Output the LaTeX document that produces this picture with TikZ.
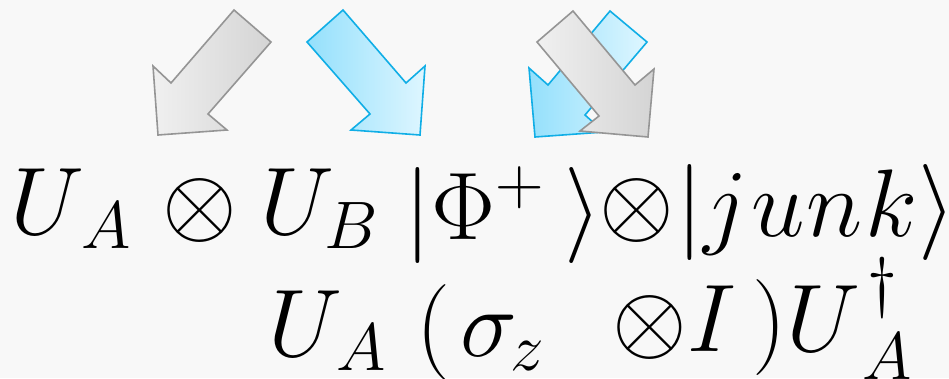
\RequirePackage{fix-cm}
\documentclass[tikz,border=0pt]{standalone}
\usepackage{amsmath,amssymb}
\definecolor{qbg}{RGB}{248,248,248}
\definecolor{qgraylt}{RGB}{240,240,240}
\definecolor{qgraydk}{RGB}{212,212,212}
\definecolor{qgrayln}{RGB}{149,149,149}
\definecolor{qbluedk}{RGB}{148,224,252}
\definecolor{qbluelt}{RGB}{222,246,255}
\definecolor{qblueln}{RGB}{16,174,230}
\usetikzlibrary{arrows.meta,calc}

\begin{document}
\begin{tikzpicture}[
  x=1pt, y=-1pt,
  grayarr/.style={
    left color=qgraylt, right color=qgraydk,
    draw=qgrayln, line width=1.6pt, line join=miter
  },
  bluearr/.style={
    left color=qbluedk, right color=qbluelt,
    draw=qblueln, line width=1.6pt, line join=miter
  },
  eqtext/.style={anchor=base west, inner sep=0pt, font=\fontsize{96}{115}\selectfont}
]
\useasboundingbox (0,0) rectangle (949,378);
\fill[qbg] (0,0) rectangle (949,378);

\shadedraw[grayarr] (234,10) -- (271,42) -- (208,114) -- (227,130) -- (158,135) -- (153,66) -- (171,83) -- cycle;
\shadedraw[bluearr] (307,42) -- (343,10) -- (406,83) -- (425,66) -- (420,135) -- (351,130) -- (370,114) -- cycle;
\shadedraw[bluearr] (610,11) -- (647,42) -- (585,115) -- (604,132) -- (535,137) -- (529,68) -- (548,85) -- cycle;
\shadedraw[grayarr] (537,42) -- (573,11) -- (635,85) -- (654,69) -- (648,137) -- (580,131) -- (599,116) -- cycle;

\node[eqtext] (ua)   at (10.6,234)  {$U_{\kern7pt A}$};
\node[eqtext] (otA)  at (162.6,234) {$\otimes$};
\node[eqtext] (ub)   at (260.6,234) {$U_B$};
\node[eqtext] (phi)  at (404.6,239) {$|\Phi^+\kern20pt\rangle$};
\node[eqtext] (otB)  at (599.6,234) {$\otimes$};
\node[eqtext] (junk) at (676.6,236) {$|j\kern4pt u\kern1pt n\kern3pt k\kern1pt\rangle$};

\node[eqtext] (uasig) at (268.6,356) {$U_{\kern4pt A}\kern30pt(\kern10pt\sigma_{\kern-3pt z}$};
\node[eqtext] (ida)   at (612.6,351) {$\otimes I\kern16pt)U_{\kern12pt A}^{\kern7pt\dagger}$};
\end{tikzpicture}
\end{document}
